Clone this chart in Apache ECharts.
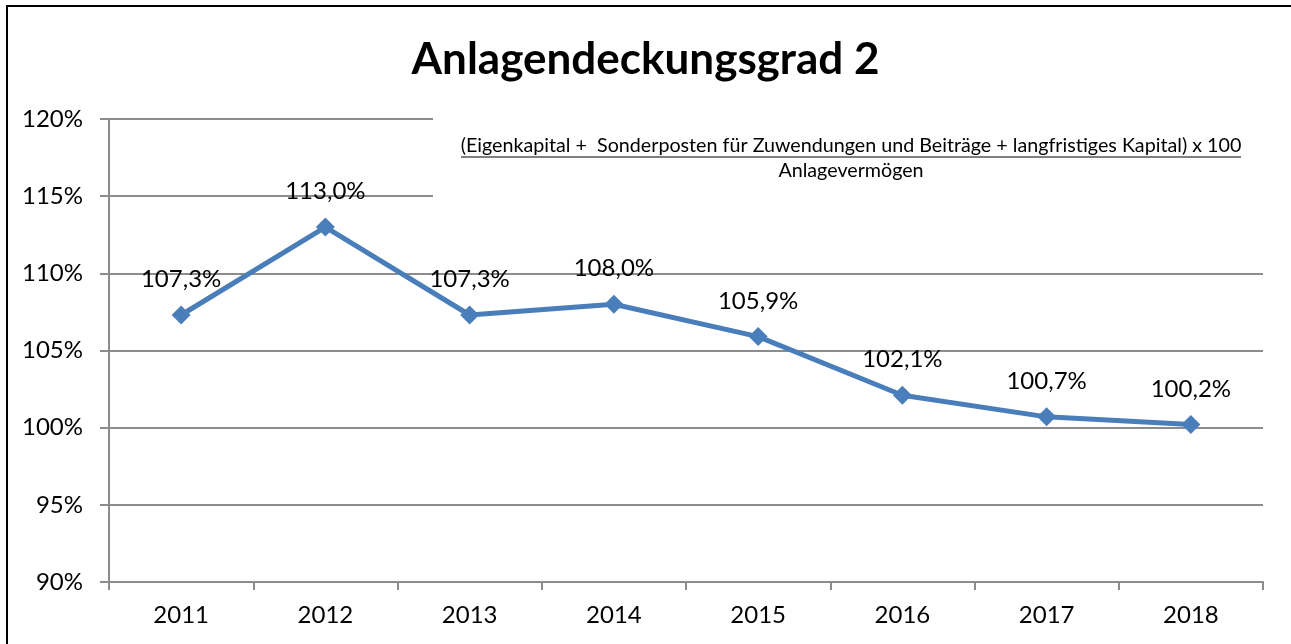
<!DOCTYPE html>
<html>
<head>
<meta charset="utf-8">
<script src="https://cdn.jsdelivr.net/npm/echarts@6/dist/echarts.min.js"></script>
<style>
html,body{margin:0;padding:0;background:#fff;}
#chart{width:1291px;height:644px;}
</style>
</head>
<body>
<div id="chart"></div>
<script>
const categories = ['2011','2012','2013','2014','2015','2016','2017','2018'];
const values = [107.3, 113.0, 107.3, 108.0, 105.9, 102.1, 100.7, 100.2];
const titleText = 'Anlagendeckungsgrad 2';
const formulaNumerator = '(Eigenkapital +  Sonderposten für Zuwendungen und Beiträge + langfristiges Kapital) x 100';
const formulaDenominator = 'Anlagevermögen';

const FONT = 'Lato, Carlito, Calibri, sans-serif';
const chart = echarts.init(document.getElementById('chart'));
chart.setOption({
  backgroundColor: '#fff',
  animation: false,
  title: {
    text: titleText,
    left: 'center',
    top: 33,
    textStyle: { fontFamily: FONT, fontWeight: 'bold', fontSize: 44, color: '#000' }
  },
  grid: { left: 109, right: 28, top: 119, bottom: 62 },
  xAxis: {
    type: 'category',
    data: categories,
    boundaryGap: true,
    axisLine: { lineStyle: { color: '#8c8c8c', width: 2 } },
    axisTick: { show: true, length: 8, lineStyle: { color: '#8c8c8c', width: 2 } },
    axisLabel: { margin: 21, fontFamily: FONT, fontSize: 24, color: '#000' }
  },
  yAxis: {
    type: 'value',
    min: 90, max: 120, interval: 5,
    axisLine: { show: true, lineStyle: { color: '#8c8c8c', width: 2 } },
    axisTick: { show: true, length: 9, lineStyle: { color: '#8c8c8c', width: 2 } },
    splitLine: { lineStyle: { color: '#8c8c8c', width: 2 } },
    axisLabel: { margin: 26, fontFamily: FONT, fontSize: 24, color: '#000', formatter: '{value}%' }
  },
  series: [{
    type: 'line',
    data: values,
    z: 5,
    symbol: 'diamond',
    symbolSize: 19,
    lineStyle: { color: '#4a7ebb', width: 5 },
    itemStyle: { color: '#4a7ebb' },
    label: {
      show: true,
      position: 'top',
      distance: 14,
      fontFamily: FONT,
      fontSize: 24,
      color: '#000',
      formatter: p => p.value.toFixed(1).replace('.', ',') + '%'
    }
  }],
  graphic: [
    { type: 'rect', z: 1, silent: true, shape: { x: 433, y: 100, width: 850, height: 120 }, style: { fill: '#fff' } },
    { type: 'text', z: 3, silent: true, x: 851, y: 146,
      style: { text: formulaNumerator, fontFamily: FONT, fontSize: 19.7, fill: '#000', textAlign: 'center', textVerticalAlign: 'middle' } },
    { type: 'line', z: 3, silent: true, shape: { x1: 461, y1: 157, x2: 1241, y2: 157 }, style: { stroke: '#000', lineWidth: 1 } },
    { type: 'text', z: 3, silent: true, x: 851, y: 171,
      style: { text: formulaDenominator, fontFamily: FONT, fontSize: 19.7, fill: '#000', textAlign: 'center', textVerticalAlign: 'middle' } },
    { type: 'rect', z: 10, silent: true, shape: { x: 7, y: 6, width: 1400, height: 800 }, style: { fill: 'none', stroke: '#000', lineWidth: 2 } }
  ]
});
</script>
</body>
</html>
